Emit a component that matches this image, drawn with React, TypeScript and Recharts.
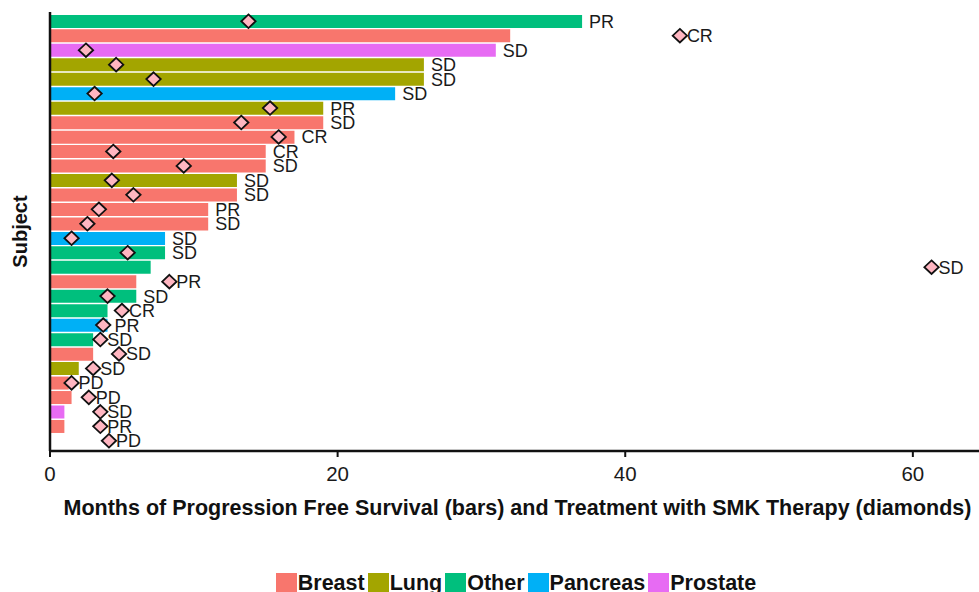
import {
  ComposedChart,
  Bar,
  Line,
  XAxis,
  YAxis,
  Cell,
  Label,
  LabelList,
} from 'recharts'

// ── data: one row per subject, top to bottom ─────────────────────
const subjects = Array.from({ length: 30 }, (_, i) => `S${i + 1}`)

const cancerTypes = [
  'Other', 'Breast', 'Prostate', 'Lung', 'Lung', 'Pancreas', 'Lung', 'Breast', 'Breast', 'Breast',
  'Breast', 'Lung', 'Breast', 'Breast', 'Breast', 'Pancreas', 'Other', 'Other', 'Breast', 'Other',
  'Other', 'Pancreas', 'Other', 'Breast', 'Lung', 'Breast', 'Breast', 'Prostate', 'Breast', 'Breast',
]

// months of progression free survival (bars)
const pfsMonths = [
  37, 32, 31, 26, 26, 24, 19, 19, 17, 15,
  15, 13, 13, 11, 11, 8, 8, 7, 6, 6,
  4, 4, 3, 3, 2, 1.3, 1.5, 1, 1, 0,
]

// months on SMK therapy (diamonds)
const smkMonths = [
  13.8, 43.8, 2.5, 4.6, 7.2, 3.1, 15.3, 13.3, 15.9, 4.4,
  9.3, 4.3, 5.8, 3.4, 2.6, 1.5, 5.4, 61.3, 8.3, 4.0,
  5.0, 3.7, 3.5, 4.8, 3.0, 1.5, 2.7, 3.5, 3.5, 4.1,
]

const responses = [
  'PR', 'CR', 'SD', 'SD', 'SD', 'SD', 'PR', 'SD', 'CR', 'CR',
  'SD', 'SD', 'SD', 'PR', 'SD', 'SD', 'SD', 'SD', 'PR', 'SD',
  'CR', 'PR', 'SD', 'SD', 'SD', 'PD', 'PD', 'SD', 'PR', 'PD',
]

const typeNames = ['Breast', 'Lung', 'Other', 'Pancreas', 'Prostate']
const typeColors = ['#F8766D', '#A3A500', '#00BF7D', '#00B0F6', '#E76BF3']

const xTicks = [0, 20, 40, 60]

const FONT = '"Liberation Sans", Arial, Helvetica, sans-serif'

const colorOf = (t: string) => typeColors[typeNames.indexOf(t)]

const data = subjects.map((subject, i) => ({
  subject,
  type: cancerTypes[i],
  pfs: pfsMonths[i],
  smk: smkMonths[i],
  response: responses[i],
  // response label sits after whichever mark reaches further
  labelAt: Math.max(pfsMonths[i], smkMonths[i]),
}))

// eslint-disable-next-line @typescript-eslint/no-explicit-any
function Diamond(props: any) {
  const { cx, cy, index } = props
  if (cx == null || cy == null) return <g key={`d-${index}`} />
  const w = 7.2
  const h = 6.8
  return (
    <path
      key={`d-${index}`}
      d={`M${cx},${cy - h} L${cx + w},${cy} L${cx},${cy + h} L${cx - w},${cy} Z`}
      fill="#FFB6C1"
      stroke="#111"
      strokeWidth={1.8}
    />
  )
}

// eslint-disable-next-line @typescript-eslint/no-explicit-any
function ResponseLabel(props: any) {
  const { x, y, value } = props
  return (
    <text
      x={x + 7}
      y={y + 0.5}
      dominantBaseline="central"
      fontFamily={FONT}
      fontSize={18}
      fill="#1a1a1a"
    >
      {value}
    </text>
  )
}

// eslint-disable-next-line @typescript-eslint/no-explicit-any
function MonthTick({ x, y, payload }: any) {
  return (
    <text
      x={x}
      y={y + 14}
      textAnchor="middle"
      dominantBaseline="central"
      fontFamily={FONT}
      fontSize={20.5}
      fill="#1a1a1a"
    >
      {payload.value}
    </text>
  )
}

// eslint-disable-next-line @typescript-eslint/no-explicit-any
function SubjectTitle({ viewBox }: any) {
  const cx = 20
  const cy = viewBox.y + viewBox.height / 2
  return (
    <text
      x={cx}
      y={cy}
      transform={`rotate(-90 ${cx} ${cy})`}
      textAnchor="middle"
      dominantBaseline="central"
      fontFamily={FONT}
      fontWeight="bold"
      fontSize={20}
      fill="#111"
    >
      Subject
    </text>
  )
}

// eslint-disable-next-line @typescript-eslint/no-explicit-any
function MonthsTitle({ viewBox }: any) {
  return (
    <text
      x={viewBox.x + viewBox.width / 2 + 3}
      y={viewBox.y + 57}
      textAnchor="middle"
      dominantBaseline="central"
      fontFamily={FONT}
      fontWeight="bold"
      fontSize={21.5}
      fill="#111"
    >
      Months of Progression Free Survival (bars) and Treatment with SMK Therapy (diamonds)
    </text>
  )
}

export default function App() {
  return (
    <div style={{ position: 'absolute', left: 0, top: 0, width: 979, height: 592, background: '#fff', overflow: 'hidden' }}>
      <ComposedChart
        width={979}
        height={592}
        data={data}
        layout="vertical"
        margin={{ top: 12, right: 0, bottom: 81, left: 0 }}
        barCategoryGap={0.9}
      >
        <XAxis
          type="number"
          domain={[0, 64.6]}
          ticks={xTicks}
          allowDataOverflow
          height={60}
          axisLine={{ stroke: '#111', strokeWidth: 2.5 }}
          tickLine={{ stroke: '#111', strokeWidth: 2 }}
          tickSize={6}
          tick={MonthTick}
        >
          <Label content={MonthsTitle} />
        </XAxis>
        <YAxis
          type="category"
          dataKey="subject"
          width={50}
          tick={false}
          tickLine={false}
          padding={{ top: 2, bottom: 3 }}
          axisLine={{ stroke: '#111', strokeWidth: 2.5 }}
        >
          <Label content={SubjectTitle} />
        </YAxis>

        {/* PFS bars coloured by cancer type */}
        <Bar dataKey="pfs" isAnimationActive={false}>
          {data.map((d, i) => (
            <Cell key={i} fill={colorOf(d.type)} />
          ))}
        </Bar>

        {/* SMK therapy diamonds */}
        <Line
          dataKey="smk"
          stroke="none"
          dot={Diamond}
          activeDot={false}
          isAnimationActive={false}
        />

        {/* response text */}
        <Line
          dataKey="labelAt"
          stroke="none"
          dot={false}
          activeDot={false}
          isAnimationActive={false}
        >
          <LabelList dataKey="response" content={ResponseLabel} />
        </Line>
      </ComposedChart>

      {/* legend, centred under the plot area */}
      <div
        style={{
          position: 'absolute', left: 53, top: 573, width: 929,
          display: 'flex', justifyContent: 'center', alignItems: 'center',
          fontFamily: FONT, fontWeight: 'bold', fontSize: 21.5, color: '#111',
          lineHeight: '21px',
        }}
      >
        {typeNames.map((name, i) => (
          <span key={name} style={{ display: 'flex', alignItems: 'center' }}>
            <span style={{ width: 21, height: 21, background: typeColors[i], marginRight: 1 }} />
            <span style={{ marginRight: 3 }}>{name}</span>
          </span>
        ))}
      </div>
    </div>
  )
}
